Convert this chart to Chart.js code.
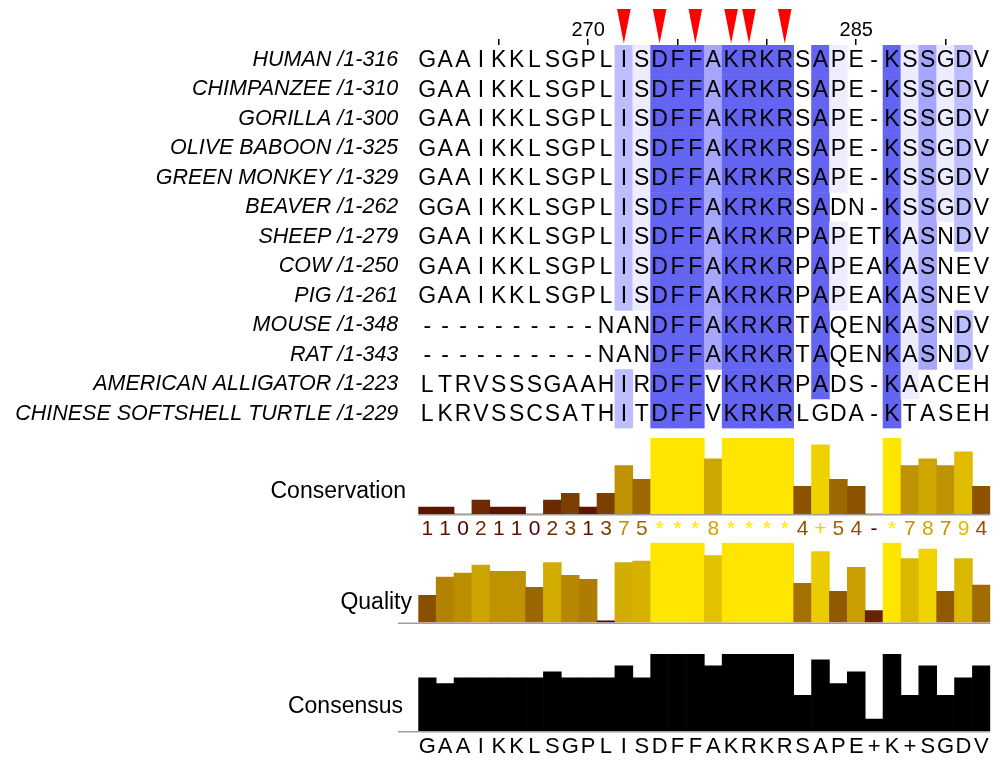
<!DOCTYPE html>
<html>
<head>
<meta charset="utf-8">
<script src="https://cdn.jsdelivr.net/npm/chart.js@4.4.1/dist/chart.umd.min.js"></script>
<style>
  html, body { margin: 0; padding: 0; background: #fff; }
  #page { position: relative; width: 1000px; height: 767px; overflow: hidden; }
  canvas { position: absolute; left: 0; }
</style>
</head>
<body>
<div id="page">
  <canvas id="alignChart" width="1000" height="440" style="top:0px"></canvas>
  <canvas id="consChart" width="1000" height="120" style="top:430px"></canvas>
  <canvas id="qualChart" width="1000" height="95" style="top:535px"></canvas>
  <canvas id="consensusChart" width="1000" height="127" style="top:640px"></canvas>
</div>
<script>
const species = [
  "HUMAN /1-316", "CHIMPANZEE /1-310", "GORILLA /1-300", "OLIVE BABOON /1-325",
  "GREEN MONKEY /1-329", "BEAVER /1-262", "SHEEP /1-279", "COW /1-250", "PIG /1-261",
  "MOUSE /1-348", "RAT /1-343", "AMERICAN ALLIGATOR /1-223", "CHINESE SOFTSHELL TURTLE /1-229"
];
const sequences = [
  "GAAIKKLSGPLISDFFAKRKRSAPE-KSSGDV",
  "GAAIKKLSGPLISDFFAKRKRSAPE-KSSGDV",
  "GAAIKKLSGPLISDFFAKRKRSAPE-KSSGDV",
  "GAAIKKLSGPLISDFFAKRKRSAPE-KSSGDV",
  "GAAIKKLSGPLISDFFAKRKRSAPE-KSSGDV",
  "GGAIKKLSGPLISDFFAKRKRSADN-KSSGDV",
  "GAAIKKLSGPLISDFFAKRKRPAPETKASNDV",
  "GAAIKKLSGPLISDFFAKRKRPAPEAKASNEV",
  "GAAIKKLSGPLISDFFAKRKRPAPEAKASNEV",
  "----------NANDFFAKRKRTAQENKASNDV",
  "----------NANDFFAKRKRTAQENKASNDV",
  "LTRVSSSGAAHIRDFFVKRKRPADS-KAACEH",
  "LKRVSSCSATHITDFFVKRKRLGDA-KTASEH"
];
// identity shading level of each cell, 0 = none .. 4 = strongest
const shading = [
  "00000000000214443444404100413120",
  "00000000000214443444404100413120",
  "00000000000214443444404100413120",
  "00000000000214443444404100413120",
  "00000000000214443444404100413120",
  "00000000000214443444404000413120",
  "00000000000214443444404100413020",
  "00000000000214443444404100413000",
  "00000000000214443444404100413000",
  "00000000000004443444404000413020",
  "00000000000004443444404000413020",
  "00000000000204440444404000410000",
  "00000000000204440444400000400000"
];
const firstPos = 261;
const tickedPos = [265, 270, 275, 280, 285, 290];
const labelledPos = [270, 285];
const markedPos = [272, 274, 276, 278, 279, 281];

const conservation = [1, 1, 0, 2, 1, 1, 0, 2, 3, 1, 3, 7, 5, 11, 11, 11, 8, 11, 11, 11, 11, 4, 10, 5, 4, 0, 11, 7, 8, 7, 9, 4];
const conservationLabels = "1102110231375***8****4+54-*78794".split("");
const quality = [0.34, 0.57, 0.62, 0.72, 0.64, 0.64, 0.44, 0.75, 0.59, 0.54, 0.02, 0.75, 0.77, 1, 1, 1, 0.84, 1, 1, 1, 1, 0.49, 0.89, 0.39, 0.69, 0.15, 1, 0.80, 0.92, 0.39, 0.80, 0.47];
const consensus = [69.2, 61.5, 69.2, 69.2, 69.2, 69.2, 69.2, 76.9, 69.2, 69.2, 69.2, 84.6, 69.2, 100, 100, 100, 84.6, 100, 100, 100, 100, 46.2, 92.3, 61.5, 76.9, 15.4, 100, 46.2, 84.6, 46.2, 69.2, 84.6];
const consensusLabels = "GAAIKKLSGPLISDFFAKRKRSAPE+K+SGDV".split("");

const FONT = '"Liberation Sans", Arial, sans-serif';
Chart.defaults.font.family = FONT;
Chart.defaults.animation = false;

const shadeColours = { "0": "rgba(0,0,0,0)", "1": "#ededff", "2": "#bdbdff", "3": "#a6a6fc", "4": "#6464f2" };

// jalview style brown -> yellow ramp
function rampColour(v) {
  const r = Math.round(255 * (0.3 + 0.7 * v));
  const g = Math.round(255 * 0.9 * v);
  return "rgb(" + r + "," + g + ",0)";
}

const columns = sequences[0].split("").map((_, i) => String(firstPos + i));

const residuePlugin = {
  id: "residues",
  afterDatasetsDraw(chart) {
    const { ctx, chartArea, scales: { x, y } } = chart;
    ctx.save();
    ctx.font = "23px " + FONT;
    ctx.fillStyle = "#000";
    ctx.textAlign = "center";
    ctx.textBaseline = "middle";
    sequences.forEach((seq, r) => {
      seq.split("").forEach((ch, c) => {
        ctx.fillText(ch, x.getPixelForValue(c), y.getPixelForValue(r) + 1);
      });
    });
    ctx.fillStyle = "#ff0000";
    markedPos.forEach(p => {
      const cx = x.getPixelForValue(p - firstPos);
      ctx.beginPath();
      ctx.moveTo(cx - 6.8, 9);
      ctx.lineTo(cx + 6.8, 9);
      ctx.lineTo(cx, chartArea.top - 1.5);
      ctx.closePath();
      ctx.fill();
    });
    ctx.restore();
  }
};

new Chart(document.getElementById("alignChart"), {
  type: "bar",
  data: {
    labels: columns,
    datasets: species.map((name, r) => ({
      label: name,
      data: columns.map(() => [r - 0.5, r + 0.5]),
      backgroundColor: shading[r].split("").map(s => shadeColours[s]),
      borderWidth: 0,
      grouped: false,
      barPercentage: 1,
      categoryPercentage: 1
    }))
  },
  options: {
    responsive: false,
    layout: { padding: { left: 0, right: 9.7, top: 0, bottom: 11.5 } },
    plugins: { legend: { display: false }, tooltip: { enabled: false } },
    scales: {
      x: {
        position: "top",
        grid: {
          drawOnChartArea: false,
          drawTicks: true,
          tickLength: 6,
          offset: false,
          lineWidth: 1.5,
          color: ctx => tickedPos.includes(firstPos + ctx.index) ? "#000" : "rgba(0,0,0,0)"
        },
        border: { display: false },
        ticks: {
          autoSkip: false,
          maxRotation: 0,
          padding: -3.5,
          color: "#000",
          font: { size: 20 },
          callback: function (v) {
            const p = Number(this.getLabelForValue(v));
            return labelledPos.includes(p) ? String(p) : "";
          }
        },
        afterFit: s => { s.height = 45; s.paddingLeft = 0; s.paddingRight = 0; }
      },
      y: {
        min: -0.5,
        max: 12.5,
        reverse: true,
        afterBuildTicks: s => { s.ticks = species.map((_, i) => ({ value: i })); },
        grid: { display: false, drawTicks: false },
        border: { display: false },
        ticks: {
          autoSkip: false,
          padding: 20,
          color: "#000",
          font: { size: 21.5, style: "italic" },
          callback: v => species[v]
        },
        afterFit: s => { s.width = 418.3; s.paddingTop = 0; s.paddingBottom = 0; }
      }
    }
  },
  plugins: [residuePlugin]
});

const trackPlugin = {
  id: "track",
  afterDatasetsDraw(chart, args, o) {
    const { ctx, chartArea, scales: { y } } = chart;
    const y0 = y.getPixelForValue(0);
    ctx.save();
    ctx.strokeStyle = "#a0a0a0";
    ctx.lineWidth = 1.5;
    ctx.beginPath();
    ctx.moveTo(o.lineFrom || chartArea.left, y0 + 0.75);
    ctx.lineTo(chartArea.right, y0 + 0.75);
    ctx.stroke();
    ctx.font = "23px " + FONT;
    ctx.fillStyle = "#000";
    ctx.textAlign = "right";
    ctx.textBaseline = "alphabetic";
    ctx.fillText(o.title, o.titleRight, o.titleBaseline);
    ctx.restore();
  }
};

function makeTrack(id, top, cfg) {
  const canvas = document.getElementById(id);
  const h = canvas.height;
  return new Chart(canvas, {
    type: "bar",
    data: {
      labels: cfg.labels,
      datasets: [{
        data: cfg.values,
        backgroundColor: cfg.colours,
        borderWidth: 0,
        barPercentage: 1,
        categoryPercentage: 1
      }]
    },
    options: {
      responsive: false,
      layout: { padding: { left: 418.3, right: 9.7, top: cfg.areaTop - top, bottom: 0 } },
      plugins: {
        legend: { display: false },
        tooltip: { enabled: false },
        track: {
          title: cfg.title,
          titleRight: cfg.titleRight,
          titleBaseline: cfg.titleBaseline - top,
          lineFrom: cfg.lineFrom
        }
      },
      scales: {
        x: {
          grid: { display: false, drawTicks: false },
          border: { display: false },
          ticks: {
            display: cfg.showLabels,
            autoSkip: false,
            maxRotation: 0,
            padding: cfg.labelPad,
            font: { size: cfg.labelSize },
            color: ctx => cfg.labelColours[ctx.index]
          },
          afterFit: s => { s.height = top + h - cfg.areaBottom; s.paddingLeft = 0; s.paddingRight = 0; }
        },
        y: { display: false, min: 0, max: cfg.max }
      }
    },
    plugins: [trackPlugin]
  });
}

const consColours = conservation.map(v => rampColour(v / 11));
makeTrack("consChart", 430, {
  labels: conservationLabels,
  values: conservation,
  max: 11,
  colours: consColours,
  labelColours: consColours,
  showLabels: true,
  labelPad: 3,
  labelSize: 21,
  areaTop: 438,
  areaBottom: 514,
  title: "Conservation",
  titleRight: 406,
  titleBaseline: 498
});

const qualColours = quality.map(v => rampColour(v));
makeTrack("qualChart", 535, {
  labels: columns,
  values: quality,
  max: 1,
  colours: qualColours,
  labelColours: qualColours,
  showLabels: false,
  labelPad: 0,
  labelSize: 20,
  areaTop: 542.7,
  areaBottom: 622.5,
  title: "Quality",
  titleRight: 412,
  titleBaseline: 609,
  lineFrom: 398
});

makeTrack("consensusChart", 640, {
  labels: consensusLabels,
  values: consensus,
  max: 100,
  colours: "#000",
  labelColours: consensusLabels.map(() => "#000"),
  showLabels: true,
  labelPad: 2.5,
  labelSize: 22,
  areaTop: 654,
  areaBottom: 731,
  title: "Consensus",
  titleRight: 403,
  titleBaseline: 713,
  lineFrom: 398
});
</script>
</body>
</html>
